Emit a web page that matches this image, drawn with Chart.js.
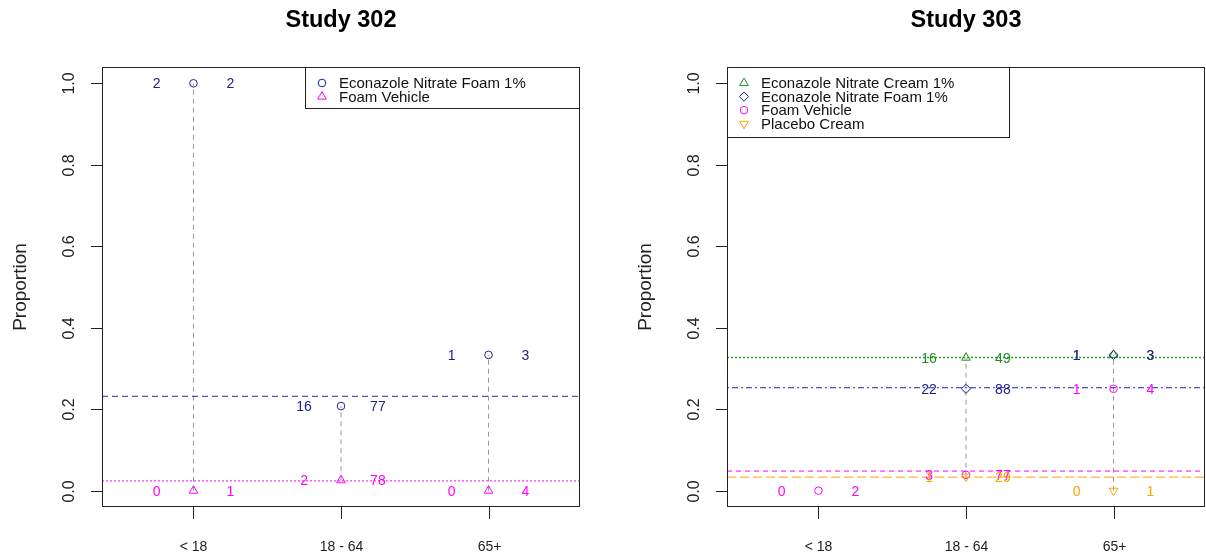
<!DOCTYPE html>
<html><head><meta charset="utf-8">
<script src="https://cdn.jsdelivr.net/npm/chart.js@4/dist/chart.umd.min.js"></script>
<style>
html,body{margin:0;padding:0;background:#fff;}
#wrap{position:relative;width:1206px;height:557px;background:#fff;}
canvas{position:absolute;top:0;}
</style></head><body>
<div id="wrap">
<canvas id="c1" width="603" height="557" style="left:0px"></canvas>
<canvas id="c2" width="603" height="557" style="left:603px"></canvas>
</div>
<script>
// ---------------- DATA ----------------
const categories = ['< 18', '18 - 64', '65+'];
const yTicks = [0, 0.2, 0.4, 0.6, 0.8, 1.0];
const yTickLabels = ['0.0', '0.2', '0.4', '0.6', '0.8', '1.0'];

// Study 302 (responders / N per age group)
const s302Titles = ['Econazole Nitrate Foam 1%', 'Foam Vehicle'];
const s302FoamResp = [2, 16, 1];
const s302FoamN    = [2, 77, 3];
const s302VehResp  = [0, 2, 0];
const s302VehN     = [1, 78, 4];

// Study 303
const s303Titles = ['Econazole Nitrate Cream 1%', 'Econazole Nitrate Foam 1%', 'Foam Vehicle', 'Placebo Cream'];
const s303CreamResp = [null, 16, 1];
const s303CreamN    = [null, 49, 3];
const s303FoamResp  = [null, 22, 1];
const s303FoamN     = [null, 88, 3];
const s303VehResp   = [0, 3, 1];
const s303VehN      = [2, 77, 4];
const s303PlacResp  = [null, 1, 0];
const s303PlacN     = [null, 29, 1];

// ---------------- STYLE ----------------
const BLUE = '#20208f', MAG = '#ff00ff', GREEN = '#1f8f1f', ORANGE = '#ffa500';
const FONT = '"Liberation Sans", Arial, Helvetica, sans-serif';
const X_MIN = 0.38, X_MAX = 3.62, Y_MIN = -0.04, Y_MAX = 1.04;

function drawSym(ctx, style, x, y, color) {
  ctx.save();
  ctx.strokeStyle = color; ctx.lineWidth = 1; ctx.beginPath();
  if (style === 'circle') { ctx.arc(x, y, 3.8, 0, Math.PI * 2); }
  else if (style === 'triangle') { const r = 5; ctx.moveTo(x, y - r); ctx.lineTo(x + r * 0.866, y + r * 0.5); ctx.lineTo(x - r * 0.866, y + r * 0.5); ctx.closePath(); }
  else if (style === 'down') { const r = 5; ctx.moveTo(x, y + r); ctx.lineTo(x + r * 0.866, y - r * 0.5); ctx.lineTo(x - r * 0.866, y - r * 0.5); ctx.closePath(); }
  else if (style === 'diamond') { const r = 4.6; ctx.moveTo(x, y - r); ctx.lineTo(x + r, y); ctx.lineTo(x, y + r); ctx.lineTo(x - r, y); ctx.closePath(); }
  ctx.stroke(); ctx.restore();
}

function makePanel(id, title, series, legend, padLeft, padRight) {
  const datasets = [];
  // vertical grey connectors
  for (let c = 0; c < categories.length; c++) {
    const vals = series.map(s => s.resp[c] == null ? null : s.resp[c] / s.n[c]).filter(v => v != null);
    if (vals.length > 1) {
      datasets.push({ type: 'line', data: [{ x: c + 1, y: Math.min(...vals) }, { x: c + 1, y: Math.max(...vals) }],
        borderColor: '#999999', borderWidth: 1, borderDash: [5, 4], pointRadius: 0, fill: false, order: 5 });
    }
  }
  series.forEach((s, i) => {
    const pts = [];
    s.resp.forEach((r, c) => { if (r != null) pts.push({ x: c + 1, y: r / s.n[c] }); });
    const totR = s.resp.reduce((a, b) => a + (b || 0), 0);
    const totN = s.n.reduce((a, b) => a + (b || 0), 0);
    datasets.push({ type: 'line', data: [{ x: X_MIN, y: totR / totN }, { x: X_MAX, y: totR / totN }],
      borderColor: s.lcolor || s.color, borderWidth: s.lw || 1, borderDash: s.dash, pointRadius: 0, fill: false, order: 4 });
    datasets.push({ type: 'scatter', label: s.name, data: pts,
      pointStyle: s.pstyle, rotation: s.rot || 0, radius: s.radius, pointRadius: s.radius, hoverRadius: s.radius,
      backgroundColor: 'rgba(0,0,0,0)', borderColor: s.color, pointBorderColor: s.color, borderWidth: 1, order: 1 - i * 0.01 });
  });

  const plugin = {
    id: 'rbase_' + id,
    afterDatasetsDraw(chart) {
      const ctx = chart.ctx, xs = chart.scales.x, ys = chart.scales.y;
      ctx.save();
      ctx.font = '14px ' + FONT; ctx.textAlign = 'center'; ctx.textBaseline = 'middle';
      series.forEach(s => {
        ctx.fillStyle = s.color;
        s.resp.forEach((r, c) => {
          if (r == null) return;
          const py = ys.getPixelForValue(r / s.n[c]);
          ctx.fillText(String(r), xs.getPixelForValue(c + 1 - 0.25), py + 1);
          ctx.fillText(String(s.n[c]), xs.getPixelForValue(c + 1 + 0.25), py + 1);
        });
      });
      ctx.restore();
    },
    afterDraw(chart) {
      const ctx = chart.ctx, ca = chart.chartArea, xs = chart.scales.x, ys = chart.scales.y;
      ctx.save();
      ctx.strokeStyle = '#222'; ctx.lineWidth = 1;
      ctx.strokeRect(Math.round(ca.left) + 0.5, Math.round(ca.top) + 0.5, Math.round(ca.right - ca.left) - 1, Math.round(ca.bottom - ca.top) - 1);
      // y axis
      ctx.fillStyle = '#222'; ctx.font = '16px ' + FONT; ctx.textAlign = 'center'; ctx.textBaseline = 'middle';
      yTicks.forEach((v, i) => {
        const py = Math.round(ys.getPixelForValue(v)) + 0.5;
        ctx.beginPath(); ctx.moveTo(ca.left, py); ctx.lineTo(ca.left - 11, py); ctx.stroke();
        ctx.save(); ctx.translate(ca.left - 32, py); ctx.rotate(-Math.PI / 2); ctx.fillText(yTickLabels[i], 0, 0); ctx.restore();
      });
      // x axis
      ctx.font = '14px ' + FONT;
      categories.forEach((lab, i) => {
        const px = Math.round(xs.getPixelForValue(i + 1)) + 0.5;
        ctx.beginPath(); ctx.moveTo(px, ca.bottom); ctx.lineTo(px, ca.bottom + 12); ctx.stroke();
        ctx.fillText(lab, px, ca.bottom + 40);
      });
      // y title
      ctx.font = '19px ' + FONT;
      ctx.save(); ctx.translate(ca.left - 81, (ys.getPixelForValue(0) + ys.getPixelForValue(1)) / 2); ctx.rotate(-Math.PI / 2); ctx.fillText('Proportion', 0, 0); ctx.restore();
      // title
      ctx.fillStyle = '#000'; ctx.font = 'bold 23.5px ' + FONT;
      ctx.fillText(title, (ca.left + ca.right) / 2, 21);
      // legend
      const lx = legend.align === 'right' ? ca.right - legend.w : ca.left;
      const ly = ca.top;
      ctx.fillStyle = '#fff'; ctx.fillRect(lx, ly, legend.w, legend.h);
      ctx.strokeStyle = '#222';
      ctx.strokeRect(Math.round(lx) + 0.5, Math.round(ly) + 0.5, legend.w - 1, legend.h);
      ctx.font = '15px ' + FONT; ctx.textAlign = 'left'; ctx.fillStyle = '#111';
      series.forEach((s, i) => {
        const ry = ly + 16 + i * 13.6;
        drawSym(ctx, s.lsym, lx + 17, ry, s.color);
        ctx.fillStyle = '#111';
        ctx.fillText(s.name, lx + 34, ry + 1);
      });
      ctx.restore();
    }
  };

  return new Chart(document.getElementById(id), {
    data: { datasets },
    options: {
      responsive: false, animation: false, devicePixelRatio: 1,
      layout: { autoPadding: false, padding: { left: padLeft, right: padRight, top: 67, bottom: 50 } },
      scales: {
        x: { type: 'linear', min: X_MIN, max: X_MAX, display: false },
        y: { type: 'linear', min: Y_MIN, max: Y_MAX, display: false }
      },
      plugins: { legend: { display: false }, tooltip: { enabled: false } },
      events: []
    },
    plugins: [plugin]
  });
}

makePanel('c1', 'Study 302', [
  { name: s302Titles[0], resp: s302FoamResp, n: s302FoamN, color: BLUE, lcolor: '#2a2aa8', pstyle: 'circle', radius: 3.8, dash: [6, 4], lsym: 'circle' },
  { name: s302Titles[1], resp: s302VehResp, n: s302VehN, color: MAG, pstyle: 'triangle', radius: 5, dash: [2, 2], lsym: 'triangle' }
], { align: 'right', w: 275, h: 41 }, 102, 23);

makePanel('c2', 'Study 303', [
  { name: s303Titles[0], resp: s303CreamResp, n: s303CreamN, color: GREEN, lcolor: '#2aa02a', pstyle: 'triangle', radius: 5, dash: [2, 2], lsym: 'triangle', lw: 1.5 },
  { name: s303Titles[1], resp: s303FoamResp, n: s303FoamN, color: BLUE, lcolor: '#2020c0', pstyle: 'rectRot', radius: 4.6, dash: [2, 3, 6, 3], lsym: 'diamond', lw: 1.2 },
  { name: s303Titles[2], resp: s303VehResp, n: s303VehN, color: MAG, pstyle: 'circle', radius: 3.8, dash: [5, 4], lsym: 'circle' },
  { name: s303Titles[3], resp: s303PlacResp, n: s303PlacN, color: ORANGE, pstyle: 'triangle', rot: 180, radius: 5, dash: [9, 4], lsym: 'down' }
], { align: 'left', w: 283, h: 70 }, 124, 1);
</script>
</body></html>
